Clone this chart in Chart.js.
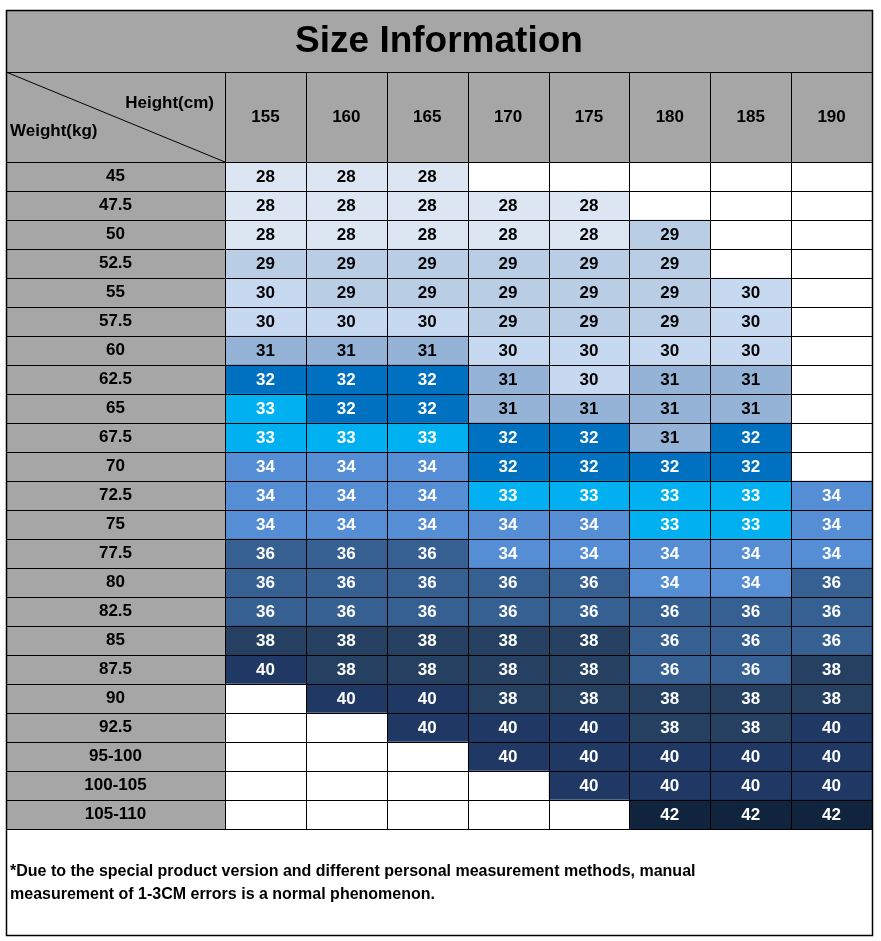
<!DOCTYPE html>
<html><head><meta charset="utf-8">
<script src="https://cdn.jsdelivr.net/npm/chart.js@4"></script>
<style>html,body{margin:0;padding:0;background:#fff}#w{width:881px;height:941px}</style>
</head><body><div id="w"><canvas id="c"></canvas></div>
<script>
const weights=["45","47.5","50","52.5","55","57.5","60","62.5","65","67.5","70","72.5","75","77.5","80","82.5","85","87.5","90","92.5","95-100","100-105","105-110"];
const heights=["155","160","165","170","175","180","185","190"];
const size155=[28,28,28,29,30,30,31,32,33,33,34,34,34,36,36,36,38,40,null,null,null,null,null];
const size160=[28,28,28,29,29,30,31,32,32,33,34,34,34,36,36,36,38,38,40,null,null,null,null];
const size165=[28,28,28,29,29,30,31,32,32,33,34,34,34,36,36,36,38,38,40,40,null,null,null];
const size170=[null,28,28,29,29,29,30,31,31,32,32,33,34,34,36,36,38,38,38,40,40,null,null];
const size175=[null,28,28,29,29,29,30,30,31,32,32,33,34,34,36,36,38,38,38,40,40,40,null];
const size180=[null,null,29,29,29,29,30,31,31,31,32,33,33,34,34,36,36,36,38,38,40,40,42];
const size185=[null,null,null,null,30,30,30,31,31,32,32,33,33,34,34,36,36,36,38,38,40,40,42];
const size190=[null,null,null,null,null,null,null,null,null,null,null,34,34,34,36,36,36,38,38,40,40,40,42];
const sizes=[size155,size160,size165,size170,size175,size180,size185,size190];
const colors={28:"#dce6f2",29:"#b9cde5",30:"#c6d9f1",31:"#95b3d7",32:"#0070c0",33:"#00b0f0",34:"#558ed5",36:"#376092",38:"#254061",40:"#1f3864",42:"#10243e"};
const L=6,R=872,T=10,TT=72,HB=162,DB=829,B=935,LC=225;
const F="'Liberation Sans', Arial, sans-serif";
const plug={id:'tbl',
beforeDatasetsDraw(ch){const c=ch.ctx;c.save();
 c.fillStyle="#a6a6a6";c.fillRect(L,T,R-L,HB-T);c.fillRect(L,HB,LC-L,DB-HB);
 c.restore();},
afterDatasetsDraw(ch){const c=ch.ctx,ys=ch.scales.y,xs=ch.scales.x;c.save();
 const rh=(DB-HB)/weights.length;
 c.strokeStyle="#000";c.lineWidth=1;
 c.beginPath();
 for(let i=0;i<=weights.length;i++){const y=Math.round(HB+i*rh)+0.5;c.moveTo(L,y);c.lineTo(R,y);}
 for(let j=0;j<=heights.length;j++){const x=Math.round(xs.getPixelForValue(j))+0.5;c.moveTo(x,TT);c.lineTo(x,DB);}
 c.moveTo(L,TT+0.5);c.lineTo(R,TT+0.5);
 c.stroke();
 c.beginPath();c.moveTo(L,TT);c.lineTo(LC,HB);c.stroke();
 c.lineWidth=1.5;c.strokeRect(L+0.5,T+0.5,R-L,B-T);
 c.textAlign="center";c.textBaseline="middle";
 c.fillStyle="#000";c.font="bold 37px "+F;c.fillText("Size Information",(L+R)/2,(T+TT)/2+1);
 c.font="bold 17px "+F;
 heights.forEach((h,j)=>c.fillText(h,xs.getPixelForValue(j+0.5),(TT+HB)/2));
 weights.forEach((w,i)=>c.fillText(w,(L+LC)/2,ys.getPixelForValue(i)));
 c.textAlign="right";c.fillText("Height(cm)",214,103);
 c.textAlign="left";c.fillText("Weight(kg)",10,131);
 c.textAlign="center";
 sizes.forEach((col,j)=>col.forEach((v,i)=>{if(v==null)return;c.fillStyle=v<=31?"#000":"#fff";c.fillText(String(v),xs.getPixelForValue(j+0.5),ys.getPixelForValue(i)+1);}));
 c.textAlign="left";c.fillStyle="#000";c.font="bold 16px "+F;
 c.fillText("*Due to the special product version and different personal measurement methods, manual",10,872);
 c.fillText("measurement of 1-3CM errors is a normal phenomenon.",10,895);
 c.restore();}};
new Chart(document.getElementById('c'),{type:'bar',
data:{labels:weights,datasets:sizes.map((col,j)=>({label:heights[j],data:col.map(()=>1),
 backgroundColor:col.map(v=>v==null?"#ffffff":colors[v]),borderWidth:0,barPercentage:1,categoryPercentage:1}))},
options:{indexAxis:'y',responsive:true,maintainAspectRatio:false,animation:false,
 layout:{padding:{left:LC,top:HB,right:881-R,bottom:941-DB}},
 plugins:{legend:{display:false},tooltip:{enabled:false}},
 scales:{x:{type:'linear',stacked:true,min:0,max:8,display:false},y:{stacked:true,display:false}}},
plugins:[plug]});
</script></body></html>
